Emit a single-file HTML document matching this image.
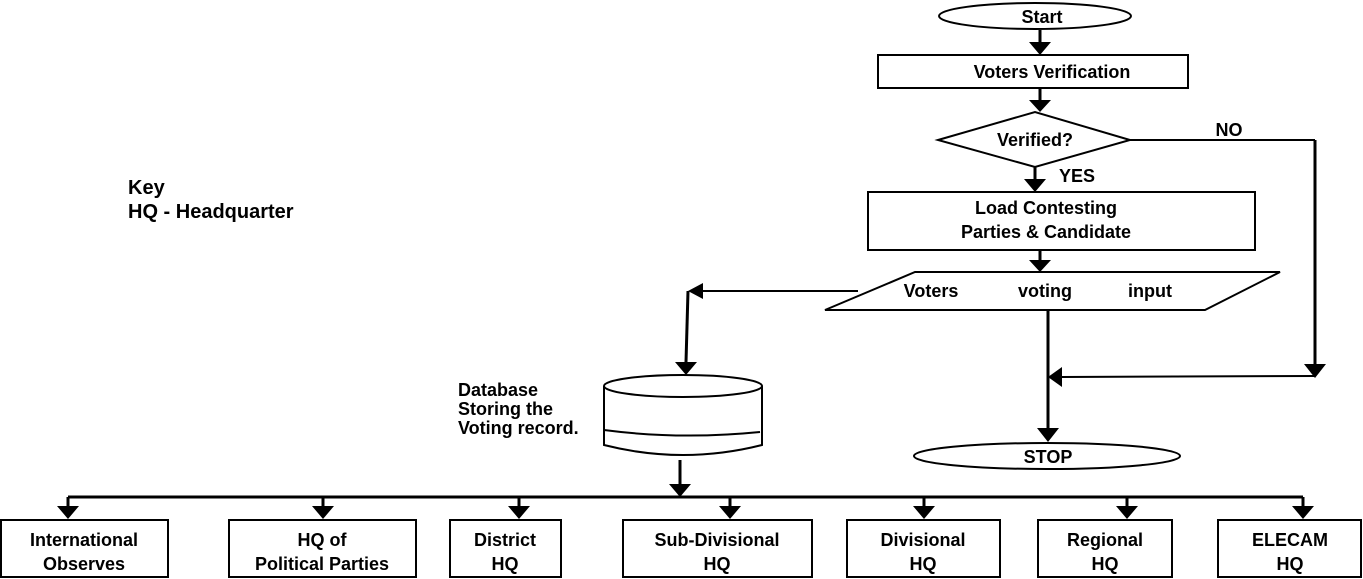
<!DOCTYPE html>
<html><head><meta charset="utf-8"><style>
html,body{margin:0;padding:0;background:#fff;}
svg{display:block;}
text{font-family:"Liberation Sans",sans-serif;font-weight:bold;fill:#000;}
</style></head><body>
<svg width="1363" height="579" viewBox="0 0 1363 579" xmlns="http://www.w3.org/2000/svg">
<defs>
<marker id="a" markerWidth="8" markerHeight="8" refX="7" refY="4" orient="auto" markerUnits="userSpaceOnUse" viewBox="0 0 8 8">
</marker>
</defs>
<g stroke="#000" fill="none" stroke-width="2">
<ellipse cx="1035" cy="16" rx="96" ry="13"/>
<rect x="878" y="55" width="310" height="33"/>
<polygon points="938,140 1035,112 1130,140 1035,167"/>
<rect x="868" y="192" width="387" height="58"/>
<polygon points="915,272 1280,272 1205,310 825,310"/>
<ellipse cx="1047" cy="456" rx="133" ry="13"/>
<!-- cylinder -->
<path d="M604,386 L604,445 Q683,465 762,445 L762,386"/>
<ellipse cx="683" cy="386" rx="79" ry="11"/>
<path d="M604,430 Q680,440 760,432"/>
<!-- boxes -->
<rect x="1" y="520" width="167" height="57"/>
<rect x="229" y="520" width="187" height="57"/>
<rect x="450" y="520" width="111" height="57"/>
<rect x="623" y="520" width="189" height="57"/>
<rect x="847" y="520" width="153" height="57"/>
<rect x="1038" y="520" width="134" height="57"/>
<rect x="1218" y="520" width="143" height="57"/>
</g>
<g stroke="#000" stroke-width="3" fill="none">
<line x1="1040" y1="30" x2="1040" y2="42"/>
<line x1="1040" y1="88" x2="1040" y2="100"/>
<line x1="1035" y1="167" x2="1035" y2="179"/>
<line x1="1040" y1="250" x2="1040" y2="260"/>
<line x1="1048" y1="310" x2="1048" y2="428"/>
<line x1="1315" y1="140" x2="1315" y2="364"/>
<line x1="1315" y1="376" x2="1062" y2="377" stroke-width="2"/>
<line x1="858" y1="291" x2="703" y2="291" stroke-width="2"/>
<line x1="688" y1="291" x2="686" y2="362"/>
<line x1="680" y1="460" x2="680" y2="484"/>
<line x1="68" y1="497" x2="1303" y2="497"/>
<line x1="68" y1="497" x2="68" y2="506"/>
<line x1="323" y1="497" x2="323" y2="506"/>
<line x1="519" y1="497" x2="519" y2="506"/>
<line x1="730" y1="497" x2="730" y2="506"/>
<line x1="924" y1="497" x2="924" y2="506"/>
<line x1="1127" y1="497" x2="1127" y2="506"/>
<line x1="1303" y1="497" x2="1303" y2="506"/>
</g>
<line x1="1130" y1="140" x2="1315" y2="140" stroke="#000" stroke-width="2"/>
<g fill="#000">
<polygon points="1029,42 1051,42 1040,55"/>
<polygon points="1029,100 1051,100 1040,112"/>
<polygon points="1024,179 1046,179 1035,192"/>
<polygon points="1029,260 1051,260 1040,272"/>
<polygon points="1037,428 1059,428 1048,442"/>
<polygon points="1304,364 1326,364 1315,378"/>
<polygon points="1062,367 1062,387 1048,377"/>
<polygon points="703,283 703,299 688,291"/>
<polygon points="675,362 697,362 686,375"/>
<polygon points="669,484 691,484 680,497"/>
<polygon points="57,506 79,506 68,519"/>
<polygon points="312,506 334,506 323,519"/>
<polygon points="508,506 530,506 519,519"/>
<polygon points="719,506 741,506 730,519"/>
<polygon points="913,506 935,506 924,519"/>
<polygon points="1116,506 1138,506 1127,519"/>
<polygon points="1292,506 1314,506 1303,519"/>
</g>
<g font-size="18" text-anchor="middle">
<text x="1042" y="23">Start</text>
<text x="1052" y="78">Voters Verification</text>
<text x="1035" y="146">Verified?</text>
<text x="1077" y="182">YES</text>
<text x="1229" y="136">NO</text>
<text x="1046" y="214">Load Contesting</text>
<text x="1046" y="238">Parties &amp; Candidate</text>
<text x="931" y="297">Voters</text>
<text x="1045" y="297">voting</text>
<text x="1150" y="297">input</text>
<text x="1048" y="463">STOP</text>
<text x="84" y="546">International</text>
<text x="84" y="570">Observes</text>
<text x="322" y="546">HQ of</text>
<text x="322" y="570">Political Parties</text>
<text x="505" y="546">District</text>
<text x="505" y="570">HQ</text>
<text x="717" y="546">Sub-Divisional</text>
<text x="717" y="570">HQ</text>
<text x="923" y="546">Divisional</text>
<text x="923" y="570">HQ</text>
<text x="1105" y="546">Regional</text>
<text x="1105" y="570">HQ</text>
<text x="1290" y="546">ELECAM</text>
<text x="1290" y="570">HQ</text>
</g>
<g font-size="18">
<text x="458" y="396">Database</text>
<text x="458" y="415">Storing the</text>
<text x="458" y="434">Voting record.</text>
<text x="128" y="194" font-size="20">Key</text>
<text x="128" y="218" font-size="20">HQ - Headquarter</text>
</g>
</svg>
</body></html>
